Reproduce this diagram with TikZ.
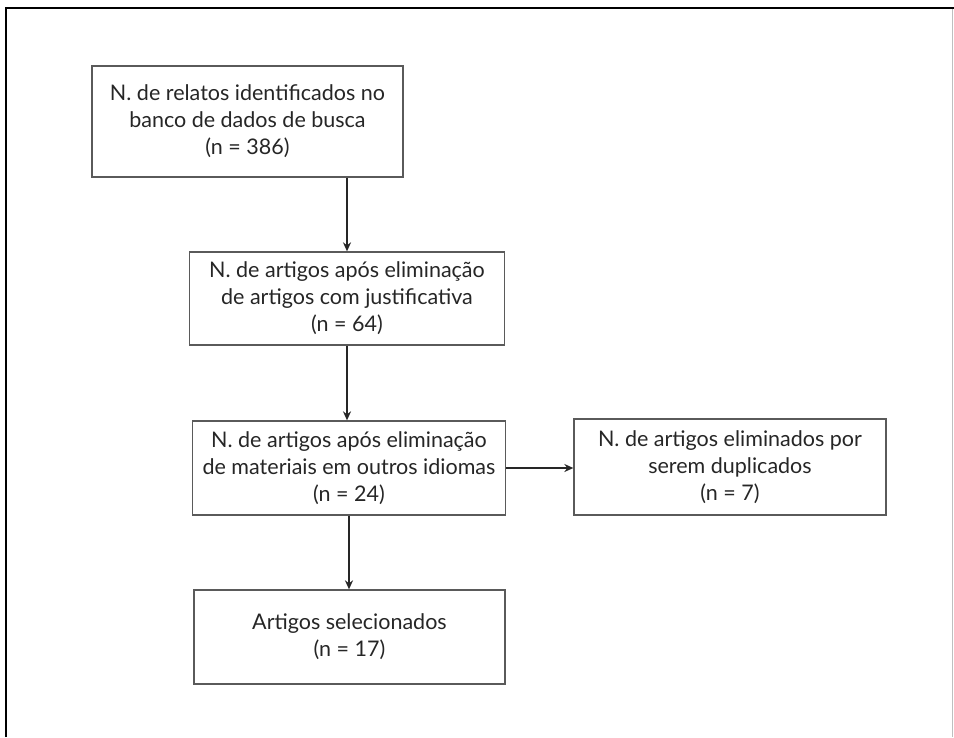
\documentclass[tikz,border=0pt]{standalone}
\usepackage{fontspec}
\setmainfont{Lato}
\usetikzlibrary{arrows.meta}

\definecolor{boxline}{HTML}{5A5A5A}
\definecolor{txt}{HTML}{262626}

\tikzset{
  stagebox/.style={draw=boxline,line width=1.3pt,align=center,text=txt,
    font=\fontsize{21.5}{27}\selectfont,inner sep=0pt},
  flow/.style={-{Stealth[length=9pt,width=8pt]},line width=2pt,draw=txt}
}

\begin{document}
\begin{tikzpicture}[x=1pt,y=-1pt]
  \useasboundingbox (0,0) rectangle (954,737);
  % outer frame
  \draw[line width=2.4pt] (6,737) -- (6,8) -- (954,8);
  \draw[black!25,line width=0.6pt] (952.5,9) -- (952.5,737);

  \node[stagebox,minimum width=311pt,minimum height=111pt] (relatos) at (247.5,121.5)
    {N. de relatos identificados no\\banco de dados de busca\\(n = 386)};
  \node[stagebox,minimum width=315pt,minimum height=93pt] (justif) at (347,298.5)
    {N. de artigos após eliminação\\de artigos com justificativa\\(n = 64)};
  \node[stagebox,minimum width=313pt,minimum height=94pt] (idiomas) at (349,468)
    {N. de artigos após eliminação\\de materiais em outros idiomas\\(n = 24)};
  \node[stagebox,minimum width=312pt,minimum height=96pt] (duplic) at (730,467)
    {N. de artigos eliminados por\\serem duplicados\\(n = 7)};
  \node[stagebox,minimum width=311pt,minimum height=94pt] (selec) at (349.5,637)
    {Artigos selecionados\\(n = 17)};

  \draw[flow] (relatos.south -| justif.north) -- (justif.north);
  \draw[flow] (justif.south) -- (justif.south |- idiomas.north);
  \draw[flow] (idiomas.east) -- (idiomas.east -| duplic.west);
  \draw[flow] (idiomas.south) -- (idiomas.south |- selec.north);
\end{tikzpicture}
\end{document}
